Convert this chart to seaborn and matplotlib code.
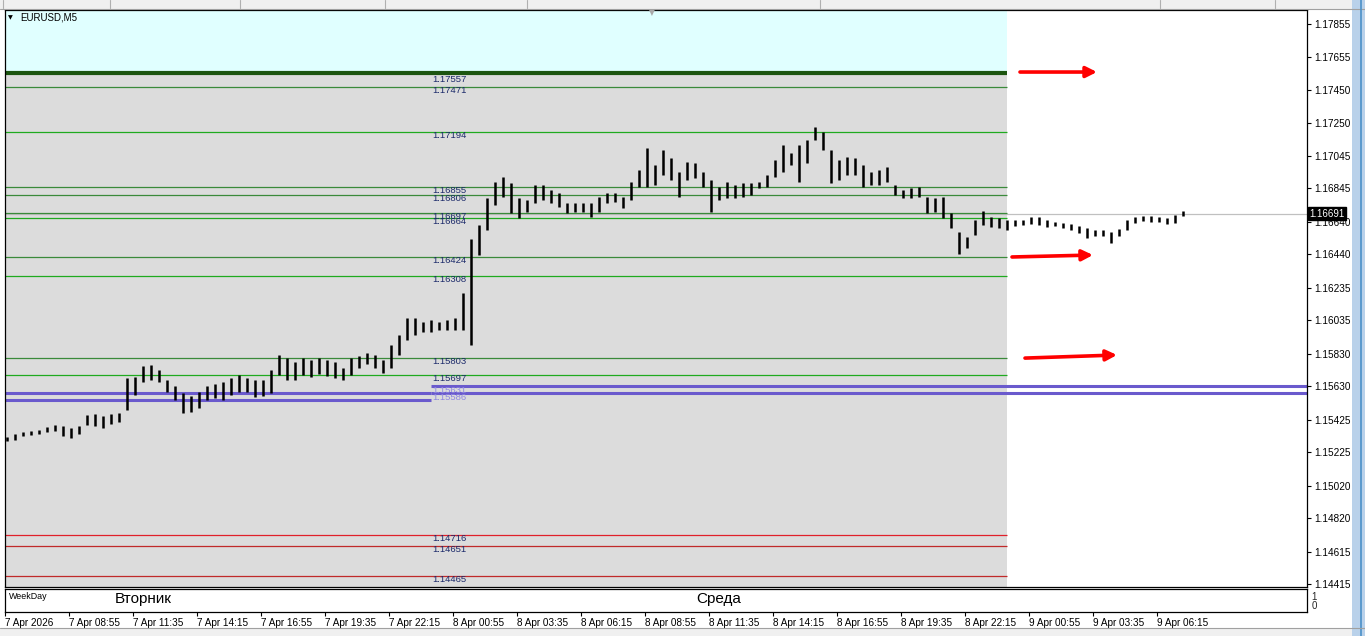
import numpy as np
import pandas as pd
import matplotlib
matplotlib.use("Agg")
import matplotlib.pyplot as plt
import matplotlib.transforms as mtransforms
from matplotlib.patches import Rectangle
import seaborn as sns

# ---------------- data (EURUSD, M5, aggregated 20-minute bars) ----------------
highs = [
    1.15318, 1.15336, 1.15348, 1.15355, 1.15361, 1.15379, 1.15392, 1.15385, 1.15373, 1.15385,
    1.15453, 1.15459, 1.15447, 1.15459, 1.15465, 1.15680, 1.15687, 1.15754, 1.15760, 1.15730,
    1.15668, 1.15631, 1.15588, 1.15570, 1.15594, 1.15631, 1.15644, 1.15656, 1.15680, 1.15699,
    1.15680, 1.15668, 1.15668, 1.15730, 1.15822, 1.15803, 1.15779, 1.15803, 1.15791, 1.15803,
    1.15791, 1.15779, 1.15742, 1.15803, 1.15815, 1.15834, 1.15822, 1.15791, 1.15883, 1.15944,
    1.16049, 1.16049, 1.16024, 1.16037, 1.16024, 1.16037, 1.16049, 1.16202, 1.16534, 1.16620,
    1.16786, 1.16884, 1.16915, 1.16878, 1.16786, 1.16774, 1.16866, 1.16866, 1.16835, 1.16817,
    1.16755, 1.16755, 1.16755, 1.16755, 1.16792, 1.16817, 1.16817, 1.16792, 1.16884, 1.16958,
    1.17093, 1.16989, 1.17081, 1.17032, 1.16946, 1.17007, 1.17001, 1.16946, 1.16897, 1.16854,
    1.16884, 1.16866, 1.16878, 1.16878, 1.16884, 1.16927, 1.17020, 1.17112, 1.17063, 1.17112,
    1.17142, 1.17222, 1.17192, 1.17081, 1.17020, 1.17038, 1.17032, 1.16989, 1.16946, 1.16958,
    1.16977, 1.16866, 1.16835, 1.16848, 1.16854, 1.16792, 1.16786, 1.16792, 1.16694, 1.16577,
    1.16546, 1.16651, 1.16706, 1.16669, 1.16663, 1.16651, 1.16651, 1.16651, 1.16669, 1.16669,
    1.16651, 1.16638, 1.16632, 1.16626, 1.16614, 1.16602, 1.16589, 1.16589, 1.16577, 1.16595,
    1.16651, 1.16669, 1.16675, 1.16675, 1.16669, 1.16663, 1.16682, 1.16706,
]
lows = [
    1.15293, 1.15299, 1.15324, 1.15330, 1.15336, 1.15348, 1.15355, 1.15324, 1.15312, 1.15336,
    1.15392, 1.15385, 1.15373, 1.15398, 1.15410, 1.15484, 1.15576, 1.15656, 1.15668, 1.15656,
    1.15594, 1.15545, 1.15465, 1.15472, 1.15496, 1.15545, 1.15557, 1.15545, 1.15576, 1.15594,
    1.15594, 1.15563, 1.15570, 1.15588, 1.15699, 1.15668, 1.15668, 1.15699, 1.15687, 1.15705,
    1.15693, 1.15680, 1.15668, 1.15699, 1.15742, 1.15766, 1.15742, 1.15711, 1.15742, 1.15822,
    1.15914, 1.15944, 1.15963, 1.15963, 1.15975, 1.15975, 1.15975, 1.15975, 1.15883, 1.16436,
    1.16589, 1.16743, 1.16792, 1.16694, 1.16663, 1.16700, 1.16755, 1.16774, 1.16755, 1.16731,
    1.16694, 1.16700, 1.16700, 1.16669, 1.16700, 1.16755, 1.16762, 1.16725, 1.16774, 1.16854,
    1.16854, 1.16866, 1.16927, 1.16897, 1.16792, 1.16897, 1.16909, 1.16854, 1.16700, 1.16774,
    1.16786, 1.16786, 1.16792, 1.16805, 1.16848, 1.16854, 1.16915, 1.16946, 1.16989, 1.16884,
    1.17001, 1.17142, 1.17081, 1.16878, 1.16897, 1.16927, 1.16927, 1.16854, 1.16866, 1.16866,
    1.16884, 1.16805, 1.16786, 1.16786, 1.16792, 1.16694, 1.16700, 1.16663, 1.16602, 1.16442,
    1.16479, 1.16559, 1.16620, 1.16608, 1.16602, 1.16589, 1.16614, 1.16620, 1.16626, 1.16620,
    1.16608, 1.16614, 1.16602, 1.16589, 1.16571, 1.16540, 1.16553, 1.16553, 1.16510, 1.16553,
    1.16589, 1.16632, 1.16645, 1.16638, 1.16638, 1.16626, 1.16632, 1.16675,
]

levels = [1.17557, 1.17471, 1.17194, 1.16855, 1.16806, 1.16697, 1.16664,
          1.16424, 1.16308, 1.15803, 1.15697, 1.14716, 1.14651, 1.14465]
band_levels_left = [1.15586, 1.15545]
band_levels_right = [1.15631, 1.15586]
bid_price = 1.16691

y_ticks = [1.17855, 1.17655, 1.17450, 1.17250, 1.17045, 1.16845, 1.16640, 1.16440,
           1.16235, 1.16035, 1.15830, 1.15630, 1.15425, 1.15225, 1.15020, 1.14820,
           1.14615, 1.14415]
time_labels = ["7 Apr 2026", "7 Apr 08:55", "7 Apr 11:35", "7 Apr 14:15", "7 Apr 16:55",
               "7 Apr 19:35", "7 Apr 22:15", "8 Apr 00:55", "8 Apr 03:35", "8 Apr 06:15",
               "8 Apr 08:55", "8 Apr 11:35", "8 Apr 14:15", "8 Apr 16:55", "8 Apr 19:35",
               "8 Apr 22:15", "9 Apr 00:55", "9 Apr 03:35", "9 Apr 06:15"]
day_names = ["Вторник", "Среда"]
symbol = "EURUSD,M5"

# ---------------- style ----------------
sns.set_theme(style="white")
plt.rcParams['font.family'] = ['Liberation Sans', 'DejaVu Sans']

W, H = 1365, 636
fig = plt.figure(figsize=(W / 100, H / 100), dpi=100)
fig.patch.set_facecolor("white")

def fx(px):
    return px / W

def fy(py):
    return 1 - py / H

# window chrome
fig.patches.append(Rectangle((0, fy(9)), 1, 9 / H, transform=fig.transFigure,
                             facecolor="#f0f0f0", edgecolor="none", zorder=0))
for sx in [3, 110, 240, 385, 527, 820, 1160, 1275]:
    fig.lines.append(plt.Line2D([fx(sx), fx(sx)], [fy(8), 1], transform=fig.transFigure,
                                color="#b0b0b0", lw=0.8))
fig.lines.append(plt.Line2D([0, 1], [fy(9), fy(9)], transform=fig.transFigure,
                            color="#a0a0a0", lw=0.8))
fig.patches.append(Rectangle((0, 0), 1, 8 / H, transform=fig.transFigure,
                             facecolor="#f0f0f0", edgecolor="none", zorder=0))
fig.patches.append(Rectangle((fx(1352), 0), 13 / W, 1, transform=fig.transFigure,
                             facecolor="#b9d1ea", edgecolor="none", zorder=0))
fig.lines.append(plt.Line2D([fx(1361), fx(1361)], [0, 1], transform=fig.transFigure,
                            color="#4a90c8", lw=1.2))
fig.lines.append(plt.Line2D([0, 1], [fy(628), fy(628)], transform=fig.transFigure,
                            color="#a0a0a0", lw=0.8))

# ---------------- main price window ----------------
ax = fig.add_axes([fx(5), fy(587), fx(1307) - fx(5), fy(10) - fy(587)])
XMIN, XMAX = -1, 650
YMIN, YMAX = 1.14397, 1.17941
ax.set_xlim(XMIN, XMAX)
ax.set_ylim(YMIN, YMAX)
ax.set_facecolor("white")

bars = pd.DataFrame({"high": highs, "low": lows})
bars["bar"] = np.arange(len(bars)) * 4
last_hist_bar = 500

top_level = levels[0]
ax.fill_between([XMIN, last_hist_bar], top_level, YMAX, color="#e0ffff", lw=0, zorder=0)
ax.fill_between([XMIN, last_hist_bar], YMIN, top_level, color="#dcdcdc", lw=0, zorder=0)

ax.axhline(bid_price, color="#c0c0c0", lw=0.9, zorder=1)

level_colors = ["#1c5510", "#3a8a3a", "#1faa1f", "#3a8a3a", "#3a8a3a", "#3a8a3a", "#1faa1f",
                "#3a8a3a", "#1faa1f", "#3a8a3a", "#1faa1f", "#e0202a", "#c02a2a", "#c02a2a"]
level_widths = [3.0] + [0.9] * (len(levels) - 1)
label_x = 212.5
for lv, c, w in zip(levels, level_colors, level_widths):
    ax.hlines(lv, XMIN, last_hist_bar, color=c, lw=w, zorder=2)
    ax.annotate(f"{lv:.5f}", xy=(label_x, lv), xytext=(0, -2.5 if w > 2 else 1),
                textcoords="offset pixels", ha="left", va="top",
                fontsize=6.8, color="#1c2a6a", zorder=4)

split_bar = 212
ax.hlines(band_levels_left, XMIN, split_bar, color="#6a5acd", lw=2.2, zorder=2)
ax.hlines(band_levels_right, split_bar, XMAX, color="#6a5acd", lw=2.2, zorder=2)
for lv in band_levels_right:
    ax.annotate(f"{lv:.5f}", xy=(label_x, lv), xytext=(0, 0),
                textcoords="offset pixels", ha="left", va="top",
                fontsize=6.8, color="#9088e0", zorder=4)

ax.vlines(bars["bar"], bars["low"], bars["high"], colors="black", lw=1.8, zorder=3)

# arrows
arrow_kw = dict(arrowstyle="-|>", color="#ff0000", lw=2.6, mutation_scale=16,
                shrinkA=0, shrinkB=0)
ax.annotate("", xy=(545, 1.17560), xytext=(506.5, 1.17560), arrowprops=arrow_kw, zorder=5)
ax.annotate("", xy=(543, 1.16436), xytext=(502.5, 1.16424), arrowprops=arrow_kw, zorder=5)
ax.annotate("", xy=(555, 1.15822), xytext=(509, 1.15803), arrowprops=arrow_kw, zorder=5)

# axes styling
for s in ax.spines.values():
    s.set_color("black")
    s.set_linewidth(0.9)
ax.set_xticks([])
ax.yaxis.tick_right()
ax.set_yticks(y_ticks)
ax.set_yticklabels([f"{v:.5f}" for v in y_ticks])
ax.tick_params(axis="y", right=True, left=False, length=3, width=0.8, pad=2,
               labelsize=7.2, colors="black")
ax.grid(False)

# bid price label
trans = mtransforms.blended_transform_factory(ax.transAxes, ax.transData)
ax.text(1.0018, bid_price, f"{bid_price:.5f}", transform=trans, ha="left", va="center",
        fontsize=7.0, color="white", zorder=6, clip_on=False,
        bbox=dict(boxstyle="square,pad=0.18", fc="black", ec="black"))

# top-left title and marker
fig.text(fx(8), fy(18), "▼", fontsize=4.5, va="center", ha="left",
         family="DejaVu Sans", color="black")
fig.text(fx(20), fy(18), symbol, fontsize=7.0, va="center", ha="left", color="black")
fig.text(fx(652), fy(13), "▼", fontsize=5.5, va="center", ha="center",
         family="DejaVu Sans", color="#a8a8a8")

# ---------------- WeekDay indicator window ----------------
ax2 = fig.add_axes([fx(5), fy(612), fx(1307) - fx(5), fy(589) - fy(612)])
ax2.set_xlim(XMIN, XMAX)
ax2.set_ylim(-0.78, 1.78)
ax2.set_facecolor("white")
for s in ax2.spines.values():
    s.set_color("black")
    s.set_linewidth(0.9)
tick_bars = [32 * k - 1 for k in range(len(time_labels))]
ax2.set_xticks(tick_bars)
ax2.set_xticklabels(time_labels, ha="left")
ax2.tick_params(axis="x", bottom=True, length=3, width=0.8, pad=1.5, labelsize=7.2,
                colors="black")
ax2.yaxis.tick_right()
ax2.set_yticks([0, 1])
ax2.set_yticklabels(["0", "1"])
ax2.tick_params(axis="y", right=True, left=False, length=0, pad=3, labelsize=7)
ax2.grid(False)
ax2.text(1, 0.9, "WeekDay", fontsize=6.4, va="center", ha="left", color="black")
ax2.text(54, 0.72, day_names[0], fontsize=11, va="center", ha="left", color="black")
ax2.text(344.5, 0.72, day_names[1], fontsize=11, va="center", ha="left", color="black")

fig.savefig("out.png", dpi=100)
